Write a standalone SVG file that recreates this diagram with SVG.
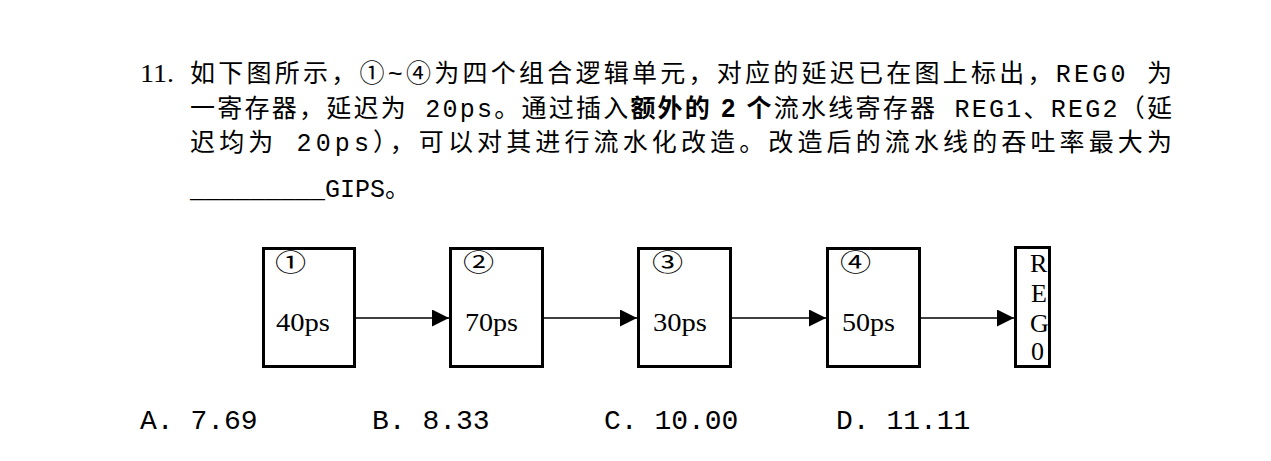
<svg xmlns="http://www.w3.org/2000/svg" width="1271" height="461" viewBox="0 0 1271 461">
<defs>
<style>
.q{font-family:"Liberation Mono","Noto Sans CJK SC",monospace;font-size:25px;fill:#000}
.b{font-family:"Liberation Sans","Noto Sans CJK SC",sans-serif;font-weight:700}
.num{font-family:"Liberation Serif",serif;font-size:26px;fill:#000}
.opt{font-family:"Liberation Mono",monospace;font-size:28px;fill:#000}
.box{fill:#fff;stroke:#000;stroke-width:3}
.lbl{font-family:"Liberation Serif",serif;font-size:26px;fill:#000}
.cir{font-family:"Noto Sans CJK SC",sans-serif;font-size:24px;fill:#000}
.reg{font-family:"Liberation Serif",serif;font-size:26px;fill:#000}
.conn{stroke:#000;stroke-width:1.5;fill:none}
</style>
<marker id="arr" markerUnits="userSpaceOnUse" markerWidth="17" markerHeight="17" refX="17" refY="8.5" orient="auto">
<path d="M0,0 L17,8.5 L0,17 z" fill="#000"/>
</marker>
</defs>
<rect width="1271" height="461" fill="#fff"/>
<g id="question">
<text class="num" x="140" y="82" textLength="34" lengthAdjust="spacingAndGlyphs">11.</text>
<text class="q" x="190" y="82" textLength="982" lengthAdjust="spacing">如下图所示，①~④为四个组合逻辑单元，对应的延迟已在图上标出，REG0 为</text>
<text class="q" x="190" y="117" textLength="982" lengthAdjust="spacing">一寄存器，延迟为 20ps。通过插入<tspan class="b">额外的 2 个</tspan>流水线寄存器 REG1、REG2（延</text>
<text class="q" x="190" y="151" textLength="982" lengthAdjust="spacing">迟均为 20ps），可以对其进行流水化改造。改造后的流水线的吞吐率最大为</text>
<text class="q" x="190" y="197">_________GIPS。</text>
</g>
<g id="connectors">
<line class="conn" x1="356" y1="318" x2="449" y2="318" marker-end="url(#arr)"/>
<line class="conn" x1="544" y1="318" x2="637" y2="318" marker-end="url(#arr)"/>
<line class="conn" x1="732" y1="318" x2="826" y2="318" marker-end="url(#arr)"/>
<line class="conn" x1="921" y1="318" x2="1014" y2="318" marker-end="url(#arr)"/>
</g>
<g id="node1">
<rect class="box" x="263.5" y="248.5" width="91" height="118"/>
<text class="cir" transform="translate(275,271) scale(1.3,1)">①</text>
<text class="lbl" x="276" y="331" textLength="54" lengthAdjust="spacingAndGlyphs">40ps</text>
</g>
<g id="node2">
<rect class="box" x="450.5" y="248.5" width="92" height="118"/>
<text class="cir" transform="translate(463,271) scale(1.3,1)">②</text>
<text class="lbl" x="465" y="331" textLength="53" lengthAdjust="spacingAndGlyphs">70ps</text>
</g>
<g id="node3">
<rect class="box" x="638.5" y="248.5" width="92" height="118"/>
<text class="cir" transform="translate(652,271) scale(1.3,1)">③</text>
<text class="lbl" x="653" y="331" textLength="54" lengthAdjust="spacingAndGlyphs">30ps</text>
</g>
<g id="node4">
<rect class="box" x="827.5" y="248.5" width="92" height="118"/>
<text class="cir" transform="translate(840,271) scale(1.3,1)">④</text>
<text class="lbl" x="842" y="331" textLength="53" lengthAdjust="spacingAndGlyphs">50ps</text>
</g>
<g id="reg0">
<rect class="box" x="1015.5" y="247.5" width="34" height="119"/>
<text class="reg" x="1030" y="272">R</text>
<text class="reg" x="1031" y="302">E</text>
<text class="reg" x="1030" y="332">G</text>
<text class="reg" x="1031" y="360">0</text>
</g>
<g id="options">
<text class="opt" x="140" y="429">A. 7.69</text>
<text class="opt" x="372" y="429">B. 8.33</text>
<text class="opt" x="604" y="429">C. 10.00</text>
<text class="opt" x="836" y="429">D. 11.11</text>
</g>
</svg>
